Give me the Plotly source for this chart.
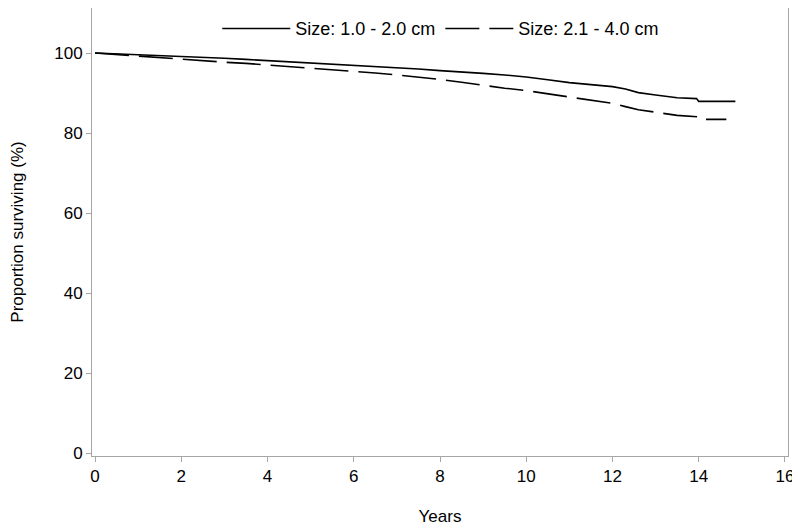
import plotly.graph_objects as go

years_small = [0, 0.5, 1, 1.5, 2, 2.5, 3, 3.5, 4, 4.5, 5, 5.5, 6, 6.5, 7, 7.5, 8, 8.5, 9, 9.5,
               10, 10.5, 11, 11.5, 12, 12.3, 12.6, 13, 13.5, 13.95, 14.0, 14.85]
surv_small = [100, 99.8, 99.6, 99.4, 99.2, 99.0, 98.7, 98.4, 98.1, 97.9, 97.6, 97.3, 97.0, 96.7,
              96.4, 96.0, 95.6, 95.3, 94.9, 94.5, 94.0, 93.3, 92.6, 92.1, 91.6, 91.0, 90.1,
              89.5, 88.8, 88.6, 87.9, 87.9]

years_large = [0, 0.5, 1, 1.5, 2, 2.5, 3, 3.5, 4, 4.5, 5, 5.5, 6, 6.5, 7, 7.5, 8, 8.5, 9, 9.5,
               10, 10.5, 11, 11.5, 12, 12.3, 12.6, 13, 13.5, 14.05, 14.1, 14.64]
surv_large = [100, 99.6, 99.2, 98.8, 98.4, 98.1, 97.7, 97.4, 97.0, 96.7, 96.3, 95.9, 95.4, 95.0,
              94.5, 94.0, 93.4, 92.7, 91.9, 91.2, 90.6, 89.8, 88.9, 88.2, 87.4, 86.6, 85.8,
              85.2, 84.4, 84.0, 83.4, 83.4]

x_ticks = [0, 2, 4, 6, 8, 10, 12, 14, 16]
y_ticks = [0, 20, 40, 60, 80, 100]

font_family = "Liberation Sans, Arial, sans-serif"

fig = go.Figure()
fig.add_trace(go.Scatter(x=years_small, y=surv_small, mode="lines", line_shape="linear",
                         name="Size: 1.0 - 2.0 cm", line=dict(color="black", width=1.6)))
fig.add_trace(go.Scatter(x=years_large, y=surv_large, mode="lines", line_shape="linear",
                         name="Size: 2.1 - 4.0 cm",
                         line=dict(color="black", width=1.6, dash="34px,10px")))

axis_common = dict(showline=True, linecolor="#a6a6a6", linewidth=1, mirror=True,
                   ticks="outside", tickcolor="#a6a6a6", ticklen=5, showgrid=False,
                   zeroline=False, automargin=False, tickfont=dict(size=17, color="black"))

# page body has an 8px default margin, so the figure is sized/offset to compensate
fig.update_layout(
    width=792, height=521,
    margin=dict(l=84, r=12, t=0, b=73),
    paper_bgcolor="white", plot_bgcolor="white",
    font=dict(family=font_family, color="black"),
    showlegend=True,
    legend=dict(orientation="h", x=0.18, xanchor="left", y=0.995, yanchor="top",
                font=dict(size=18), bgcolor="rgba(0,0,0,0)", itemwidth=68,
                traceorder="normal"),
    xaxis=dict(range=[-0.07, 16.07], tickvals=x_ticks,
               title=dict(text="Years", font=dict(size=17), standoff=24), **axis_common),
    yaxis=dict(range=[-0.75, 111.25], tickvals=y_ticks,
               title=dict(text="Proportion surviving (%)", font=dict(size=17), standoff=26),
               **axis_common),
)

fig.write_html("out.html")
